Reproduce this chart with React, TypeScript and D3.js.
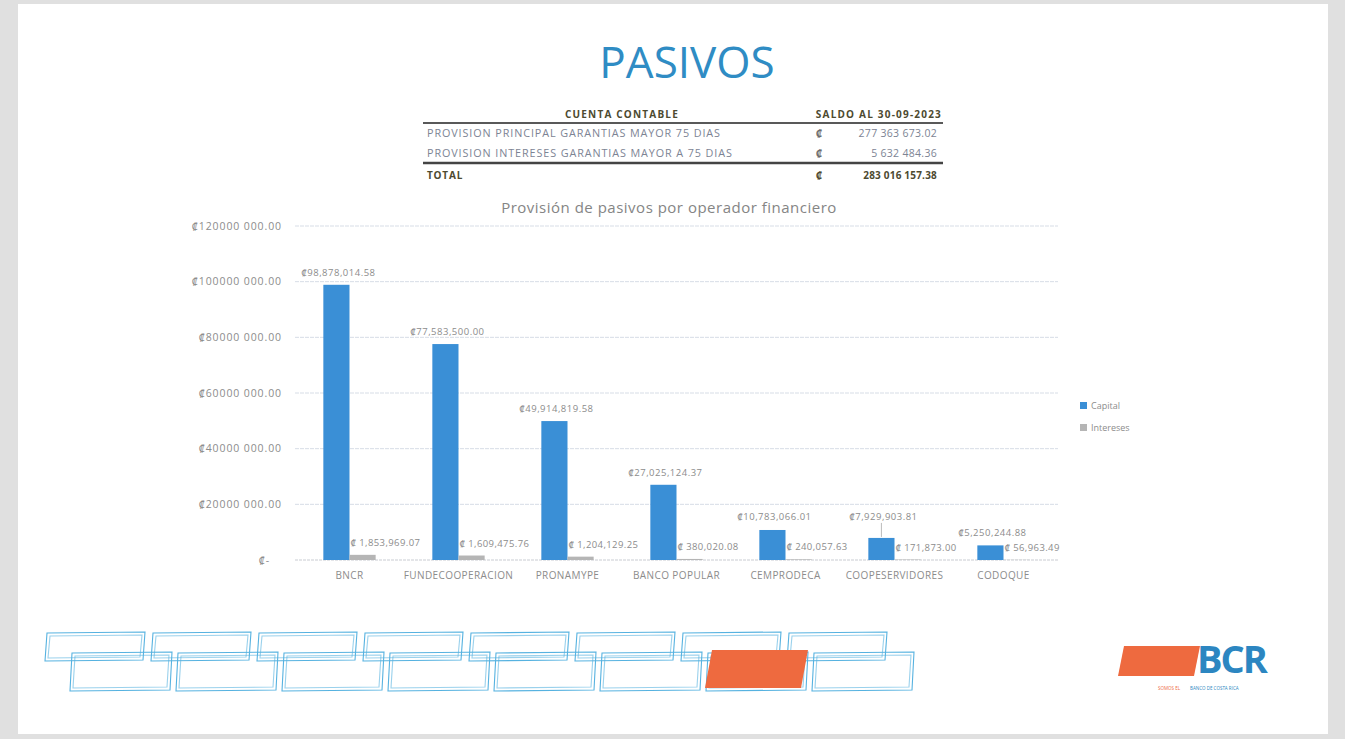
import React from "react";
import * as d3 from "d3";

// ---------- data ----------
const categories = ["BNCR", "FUNDECOOPERACION", "PRONAMYPE", "BANCO POPULAR", "CEMPRODECA", "COOPESERVIDORES", "CODOQUE"];
const seriesNames = ["Capital", "Intereses"];
const capital = [98878014.58, 77583500.0, 49914819.58, 27025124.37, 10783066.01, 7929903.81, 5250244.88];
const intereses = [1853969.07, 1609475.76, 1204129.25, 380020.08, 240057.63, 171873.0, 56963.49];
const yTicks = [0, 20000000, 40000000, 60000000, 80000000, 100000000, 120000000];

const tableHeader = ["CUENTA CONTABLE", "SALDO AL 30-09-2023"];
const tableLabels = ["PROVISION PRINCIPAL GARANTIAS MAYOR 75 DIAS", "PROVISION INTERESES GARANTIAS MAYOR A 75 DIAS"];
const tableValues = [277363673.02, 5632484.36];
const totalLabel = "TOTAL";
const totalValue = 283016157.38;

const pageTitle = "PASIVOS";
const chartTitle = "Provisión de pasivos por operador financiero";

// ---------- styles ----------
const W = 1345;
const H = 739;
const FONT = "'Open Sans', 'Noto Sans', sans-serif";
const BLUE = "#3a8fd6";
const GREY_BAR = "#b5b5b5";
const TEXT_GREY = "#8c8c8c";

const spaceLocale = d3.formatLocale({ decimal: ".", thousands: " ", grouping: [3], currency: ["₡", ""] });
const fmtTable = spaceLocale.format(",.2f");
const fmtLabel = d3.format(",.2f");

function axisLabel(v: number): string {
  if (v === 0) return "₡-";
  const s = v.toFixed(2);
  const [int, dec] = s.split(".");
  const head = int.slice(0, int.length - 3);
  const tail = int.slice(int.length - 3);
  return `₡${head} ${tail}.${dec}`;
}

export default function App() {
  const plotLeft = 295;
  const plotRight = 1058;
  const yScale = d3.scaleLinear().domain([0, 120000000]).range([560, 226]);
  const x0 = d3.scaleBand<string>().domain(categories).range([plotLeft, plotRight]).padding(0);
  const groupW = x0.bandwidth() * 0.48;
  const x1 = d3.scaleBand<string>().domain(seriesNames).range([0, groupW]).padding(0);
  const groupStart = (c: string) => (x0(c) as number) + (x0.bandwidth() - groupW) / 2;

  // small label lift for crowded label (Excel-moved label with leader line)
  const labelLift: Record<string, number> = { COOPESERVIDORES: 9, CEMPRODECA: 1 };

  const pattern = d3.range(8);
  const step = 106;

  return (
    <svg width={W} height={H} style={{ position: "absolute", left: 0, top: 0, fontFamily: FONT }}>
      <rect x={0} y={0} width={W} height={H} fill="#e0e0e0" />
      <rect x={18} y={4} width={1310} height={730} fill="#ffffff" />

      {/* page title */}
      <text x={687} y={78} textAnchor="middle" fontSize={44} fill="#2f8cc4" fontFamily={FONT}>
        {pageTitle}
      </text>

      {/* table */}
      <g fontFamily={FONT}>
        <text x={622} y={118} textAnchor="middle" fontSize={10} letterSpacing={1.2} fontWeight={700} fill="#4d4a30">
          {tableHeader[0]}
        </text>
        <text x={942} y={118} textAnchor="end" fontSize={10} letterSpacing={1.2} fontWeight={700} fill="#4d4a30">
          {tableHeader[1]}
        </text>
        <line x1={423} x2={943} y1={123} y2={123} stroke="#222" strokeWidth={1.6} />
        {tableLabels.map((l, i) => (
          <g key={l}>
            <text x={427} y={137 + i * 20} fontSize={10.8} letterSpacing={0.9} fill="#7d8494">
              {l}
            </text>
            <text x={816} y={137 + i * 20} fontSize={10} fill="#6d6d6d" fontWeight={700}>
              ₡
            </text>
            <text x={937} y={137 + i * 20} textAnchor="end" fontSize={10.5} letterSpacing={0.3} fill="#7d8494">
              {fmtTable(tableValues[i])}
            </text>
          </g>
        ))}
        <line x1={423} x2={943} y1={163} y2={163} stroke="#444" strokeWidth={2.6} />
        <text x={427} y={179} fontSize={10} letterSpacing={0.8} fontWeight={700} fill="#4d4a30">
          {totalLabel}
        </text>
        <text x={816} y={179} fontSize={10} fill="#4d4a30" fontWeight={700}>
          ₡
        </text>
        <text x={937} y={179} textAnchor="end" fontSize={10} letterSpacing={0.2} fontWeight={700} fill="#4d4a30">
          {fmtTable(totalValue)}
        </text>
      </g>

      {/* chart title */}
      <text x={669} y={213} textAnchor="middle" fontSize={15} letterSpacing={0.5} fill="#858585">
        {chartTitle}
      </text>

      {/* gridlines & y axis */}
      {yTicks.map((t) => (
        <g key={t}>
          <line
            x1={plotLeft}
            x2={plotRight}
            y1={yScale(t)}
            y2={yScale(t)}
            stroke={t === 0 ? "#c9ccd2" : "#d7dde6"}
            strokeWidth={1}
            strokeDasharray={t === 0 ? "3,1" : "4,1"}
          />
          <text
            x={t === 0 ? 270 : 282}
            y={yScale(t) + 3.5}
            textAnchor="end"
            fontSize={10.5}
            letterSpacing={0.9}
            fill={TEXT_GREY}
          >
            {axisLabel(t)}
          </text>
        </g>
      ))}

      {/* bars */}
      {categories.map((c, i) => {
        const gx = groupStart(c);
        const cx = gx + (x1("Capital") as number);
        const ix = gx + (x1("Intereses") as number);
        const bw = x1.bandwidth();
        const capTop = yScale(capital[i]);
        const intTop = yScale(intereses[i]);
        const lift = labelLift[c] || 0;
        const capLabelY = capTop - 9 - lift;
        return (
          <g key={c}>
            <rect x={cx} y={capTop} width={bw} height={yScale(0) - capTop} fill={BLUE} />
            <rect x={ix} y={intTop} width={bw} height={yScale(0) - intTop} fill={GREY_BAR} />
            {lift > 3 && (
              <line x1={cx + bw / 2} x2={cx + bw / 2} y1={capLabelY + 3} y2={capTop - 1} stroke="#aaa" strokeWidth={0.8} />
            )}
            <text x={cx + bw / 2 + 2} y={capLabelY} textAnchor="middle" fontSize={9.5} letterSpacing={0.5} fill={TEXT_GREY}>
              {"₡" + fmtLabel(capital[i])}
            </text>
            <text x={ix + 1} y={intTop - 9} fontSize={9.5} letterSpacing={0.4} fill={TEXT_GREY}>
              {"₡ " + fmtLabel(intereses[i])}
            </text>
            <text
              x={(x0(c) as number) + x0.bandwidth() / 2}
              y={579}
              textAnchor="middle"
              fontSize={10}
              letterSpacing={0.4}
              fill={TEXT_GREY}
            >
              {c}
            </text>
          </g>
        );
      })}

      {/* legend */}
      <g fontSize={9} fill={TEXT_GREY}>
        <rect x={1080} y={402} width={7} height={7} fill={BLUE} />
        <text x={1091} y={409}>{seriesNames[0]}</text>
        <rect x={1080} y={424} width={7} height={7} fill={GREY_BAR} />
        <text x={1091} y={431}>{seriesNames[1]}</text>
      </g>

      {/* bottom decoration */}
      <g fill="none" stroke="#56b2e0" strokeWidth={1.1}>
        {pattern.map((i) => {
          const a = 45 + i * step;
          const b = 70 + i * step;
          return (
            <g key={i}>
              <path d={`M${a + 2},633 L${a + 100},632 L${a + 98},660 L${a},661 Z`} />
              <path d={`M${a + 5},636 L${a + 97},635 L${a + 95},657 L${a + 3},658 Z`} opacity={0.6} />
              <path d={`M${b + 2},653 L${b + 102},652 L${b + 100},690 L${b},691 Z`} />
              <path d={`M${b + 5},656 L${b + 99},655 L${b + 97},687 L${b + 3},688 Z`} opacity={0.6} />
            </g>
          );
        })}
      </g>
      <path d="M712,650 L808,650 L801,688 L705,688 Z" fill="#ee6a3f" />

      {/* BCR logo */}
      <path d="M1124,646 L1200,646 L1194,676 L1118,676 Z" fill="#ee6a3f" />
      <text x={1197} y={673} fontSize={38} fontWeight={700} fill="#2c86c1" letterSpacing={-2} fontFamily={FONT}>
        BCR
      </text>
      <text x={1158} y={690} fontSize={4.5} fill="#ee6a3f">SOMOS EL</text>
      <text x={1190} y={690} fontSize={4.5} fill="#2c86c1">BANCO DE COSTA RICA</text>
    </svg>
  );
}
